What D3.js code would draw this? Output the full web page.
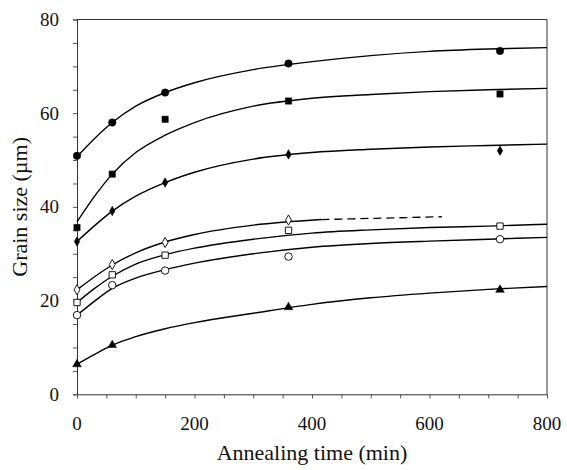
<!DOCTYPE html>
<html>
<head>
<meta charset="utf-8">
<script src="https://cdn.jsdelivr.net/npm/d3@7"></script>
<style>
  body { margin: 0; background: #fff; }
  text { font-family: "Liberation Serif", "Times New Roman", serif; fill: #111; }
</style>
</head>
<body>
<svg id="chart" width="567" height="470"></svg>
<script>
// measured annealing times (min)
var times = [0, 60, 150, 360, 720];
// measured grain sizes (um), one list per sample
var filledCircle = [50.9, 58.0, 64.4, 70.6, 73.3];
var filledSquare = [35.6, 47.0, 58.7, 62.6, 64.1];
var filledDiamond = [32.6, 39.1, 45.2, 51.2, 52.0];
var openDiamond = [22.3, 27.7, 32.4, 37.2, null];
var openSquare = [19.6, 25.5, 29.7, 35.0, 35.9];
var openCircle = [16.9, 23.3, 26.4, 29.4, 33.1];
var filledTriangle = [6.4, 10.5, null, 18.6, 22.3];

// fitted curves
var fitTimes = [0, 30, 60, 100, 150, 200, 300, 400, 500, 600, 700, 800];
var fitCircle = [50.7, 54.6, 58.0, 61.5, 64.4, 66.5, 69.3, 71.0, 72.3, 73.2, 73.7, 74.0];
var fitSquare = [36.8, 42.3, 47.0, 51.6, 55.3, 58.0, 61.5, 63.2, 64.0, 64.6, 65.0, 65.3];
var fitDiamond = [32.6, 36.0, 39.1, 42.3, 45.2, 47.4, 50.2, 51.6, 52.3, 52.8, 53.1, 53.4];
var fitOpenSquare = [19.6, 22.6, 25.2, 27.8, 29.8, 31.2, 33.1, 34.4, 35.1, 35.6, 35.9, 36.3];
var fitOpenCircle = [16.9, 19.9, 22.6, 24.8, 26.6, 28.0, 30.0, 31.4, 32.2, 32.7, 33.1, 33.5];
var fitTriangle = [6.4, 8.5, 10.5, 12.3, 14.0, 15.3, 17.3, 19.2, 20.6, 21.6, 22.4, 23.0];
// open diamond fit: solid part then dashed extension
var fitOpenDiamondTimes = [0, 30, 60, 100, 150, 200, 300, 416];
var fitOpenDiamond = [22.3, 25.1, 27.6, 30.2, 32.5, 34.1, 36.1, 37.3];
var dashTimes = [416, 520, 621];
var dashValues = [37.3, 37.6, 37.9];

var xTicks = [0, 200, 400, 600, 800];
var yTicks = [0, 20, 40, 60, 80];

var svg = d3.select("#chart"),
  margin = { top: 19.5, right: 20, bottom: 75.7, left: 77 },
  width = 567 - margin.left - margin.right,
  height = 470 - margin.top - margin.bottom;

var x = d3.scaleLinear().domain([0, 800]).range([0, width]),
  y = d3.scaleLinear().domain([0, 80]).range([height, 0]);

var g = svg.append("g")
  .attr("transform", "translate(" + margin.left + "," + margin.top + ")");

// frame (top and right)
g.append("path")
  .attr("d", "M0,0H" + width + "V" + height)
  .attr("fill", "none")
  .attr("stroke", "#333")
  .attr("stroke-width", 1);

// y axis
var yAxis = g.append("g")
  .call(d3.axisLeft(y).tickValues(d3.range(0, 81, 5)).tickSize(4).tickFormat(""));
yAxis.select(".domain").attr("stroke", "#333");
yAxis.selectAll(".tick line").attr("stroke", "#555");

g.selectAll(".ylab")
  .data(yTicks)
  .enter().append("text")
  .attr("class", "ylab")
  .attr("x", -18)
  .attr("y", function(d) { return y(d) + 6.5; })
  .attr("text-anchor", "end")
  .attr("font-size", 19)
  .text(function(d) { return d; });

// x axis
var xAxis = g.append("g")
  .attr("transform", "translate(0," + height + ")")
  .call(d3.axisBottom(x).tickValues(d3.range(0, 801, 50)).tickSize(4).tickFormat(""));
xAxis.select(".domain").attr("stroke", "#333");
xAxis.selectAll(".tick line").attr("stroke", "#555");

g.selectAll(".xlab")
  .data(xTicks)
  .enter().append("text")
  .attr("class", "xlab")
  .attr("x", function(d) { return x(d); })
  .attr("y", height + 36)
  .attr("text-anchor", "middle")
  .attr("font-size", 19)
  .text(function(d) { return d; });

svg.append("text")
  .attr("x", margin.left + width / 2)
  .attr("y", 460)
  .attr("text-anchor", "middle")
  .attr("font-size", 22)
  .text("Annealing time (min)");

svg.append("text")
  .attr("transform", "translate(27," + (margin.top + height / 2) + ") rotate(-90)")
  .attr("text-anchor", "middle")
  .attr("font-size", 22)
  .text("Grain size (\u00b5m)");

// fitted curves
var line = d3.line()
  .x(function(d) { return x(d[0]); })
  .y(function(d) { return y(d[1]); })
  .curve(d3.curveMonotoneX);

var fits = [fitCircle, fitSquare, fitDiamond, fitOpenSquare, fitOpenCircle, fitTriangle];
fits.forEach(function(vals) {
  g.append("path")
    .datum(d3.zip(fitTimes, vals))
    .attr("d", line)
    .attr("fill", "none")
    .attr("stroke", "#000")
    .attr("stroke-width", 1.4);
});

g.append("path")
  .datum(d3.zip(fitOpenDiamondTimes, fitOpenDiamond))
  .attr("d", line)
  .attr("fill", "none")
  .attr("stroke", "#000")
  .attr("stroke-width", 1.4);

g.append("path")
  .datum(d3.zip(dashTimes, dashValues))
  .attr("d", line)
  .attr("fill", "none")
  .attr("stroke", "#000")
  .attr("stroke-width", 1.3)
  .attr("stroke-dasharray", "8,5");

// markers
var series = [
  { values: filledCircle, type: d3.symbolCircle, size: 44, filled: true },
  { values: filledSquare, type: d3.symbolSquare, size: 40, filled: true },
  { values: filledDiamond, type: d3.symbolDiamond, size: 26, filled: true },
  { values: openDiamond, type: d3.symbolDiamond, size: 30, filled: false },
  { values: openSquare, type: d3.symbolSquare, size: 40, filled: false },
  { values: openCircle, type: d3.symbolCircle, size: 44, filled: false },
  { values: filledTriangle, type: d3.symbolTriangle, size: 32, filled: true }
];

series.forEach(function(s) {
  var pts = d3.zip(times, s.values).filter(function(d) { return d[1] != null; });
  g.selectAll(null)
    .data(pts)
    .enter().append("path")
    .attr("transform", function(d) { return "translate(" + x(d[0]) + "," + y(d[1]) + ")"; })
    .attr("d", d3.symbol().type(s.type).size(s.size))
    .attr("fill", s.filled ? "#000" : "#fff")
    .attr("stroke", "#000")
    .attr("stroke-width", s.filled ? 0.5 : 0.9);
});
</script>
</body>
</html>
